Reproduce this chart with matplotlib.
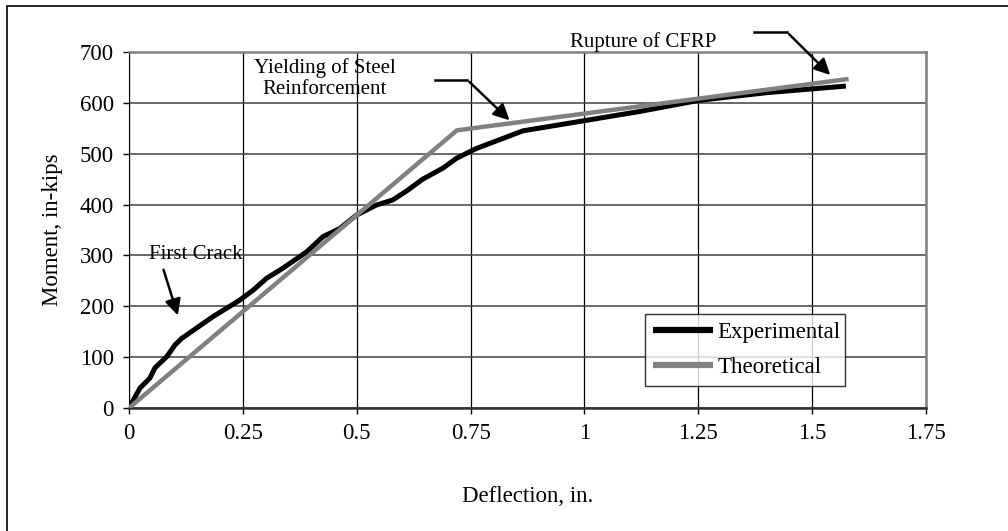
import matplotlib.pyplot as plt
from matplotlib.patches import Rectangle

plt.rcParams['font.family'] = ['Liberation Serif', 'DejaVu Serif']

# deflection (in.) vs moment (in-kips)
exp_x = [0, 0.024, 0.046, 0.057, 0.083, 0.101, 0.116, 0.148, 0.185, 0.214, 0.243,
         0.273, 0.302, 0.338, 0.390, 0.426, 0.463, 0.499, 0.543, 0.579, 0.61,
         0.645, 0.69, 0.719, 0.762, 0.865, 1.0, 1.121, 1.252, 1.4, 1.574]
exp_y = [0, 39, 59, 79, 101, 124, 137, 157, 180, 196, 212,
         232, 255, 275, 307, 337, 353, 379, 399, 409, 427,
         450, 472, 491, 510, 545, 565, 583, 605, 620, 633]
theo_x = [0, 0.72, 1.58]
theo_y = [0, 546, 647]

xticks = [0, 0.25, 0.5, 0.75, 1, 1.25, 1.5, 1.75]
xticklabels = ['0', '0.25', '0.5', '0.75', '1', '1.25', '1.5', '1.75']
yticks = [0, 100, 200, 300, 400, 500, 600, 700]

fig = plt.figure(figsize=(10.08, 5.31), dpi=100)
ax = fig.add_axes([129/1008, 1 - 408/531, (926-129)/1008, (408-52)/531])

# outer frame (cut off on right and bottom)
fig.patches.append(Rectangle((7/1008, -0.1), 1.2, 1.1 - 6/531, transform=fig.transFigure,
                             fill=False, edgecolor='black', linewidth=1.2))

ax.plot(exp_x, exp_y, color='black', lw=3.6, solid_capstyle='butt', label='Experimental', zorder=3)
ax.plot(theo_x, theo_y, color='#808080', lw=3.2, solid_capstyle='butt', label='Theoretical', zorder=4)

ax.set_xlim(0, 1.75)
ax.set_ylim(0, 700)
ax.set_xticks(xticks)
ax.set_xticklabels(xticklabels)
ax.set_yticks(yticks)
ax.tick_params(labelsize=16.5, direction='out', length=4, width=1, colors='black', pad=7)
ax.xaxis.grid(True, color='black', lw=0.9)
ax.yaxis.grid(True, color='#404040', lw=1.1)
ax.set_axisbelow(True)
for s in ['top', 'right']:
    ax.spines[s].set_color('#808080')
    ax.spines[s].set_linewidth(1.8)
ax.spines['left'].set_color('black')
ax.spines['bottom'].set_color('#303030')
ax.spines['bottom'].set_linewidth(1.8)

ax.set_xlabel('Deflection, in.', fontsize=16.5, labelpad=30)
ax.set_ylabel('Moment, in-kips', fontsize=16.5, labelpad=12)

leg = ax.legend(loc='lower left', bbox_to_anchor=((645-129)/797, (408-386)/356, (845-645)/797, (386-304)/356),
                mode='expand', fontsize=16.5, handlelength=2.6, handletextpad=0.2,
                frameon=True, fancybox=False, borderpad=0.35, labelspacing=0.6, borderaxespad=0)
leg.get_frame().set_edgecolor('black')
leg.get_frame().set_linewidth(1)
for h in leg.get_lines():
    h.set_linewidth(4.5)

arw = dict(arrowstyle='-|>', color='black', lw=1.8, mutation_scale=24)
ax.text(0.044, 277 + 25, 'First Crack', fontsize=15, va='center', ha='left')
ax.annotate('', xy=(0.109, 177), xytext=(0.074, 277), arrowprops=arw)

ax.text(0.43, 648, 'Yielding of Steel\nReinforcement', fontsize=15, ha='center', va='center',
        linespacing=1.1)
ax.plot([0.671, 0.743], [645, 645], color='black', lw=1.8, clip_on=False)
ax.annotate('', xy=(0.840, 562), xytext=(0.743, 645), arrowprops=arw)

ax.text(1.13, 720, 'Rupture of CFRP', fontsize=15, ha='center', va='center')
ax.plot([1.373, 1.445], [739, 739], color='black', lw=1.8, clip_on=False)
ax.annotate('', xy=(1.544, 651), xytext=(1.445, 739), arrowprops=arw, annotation_clip=False)

fig.savefig('out.png', dpi=100)
